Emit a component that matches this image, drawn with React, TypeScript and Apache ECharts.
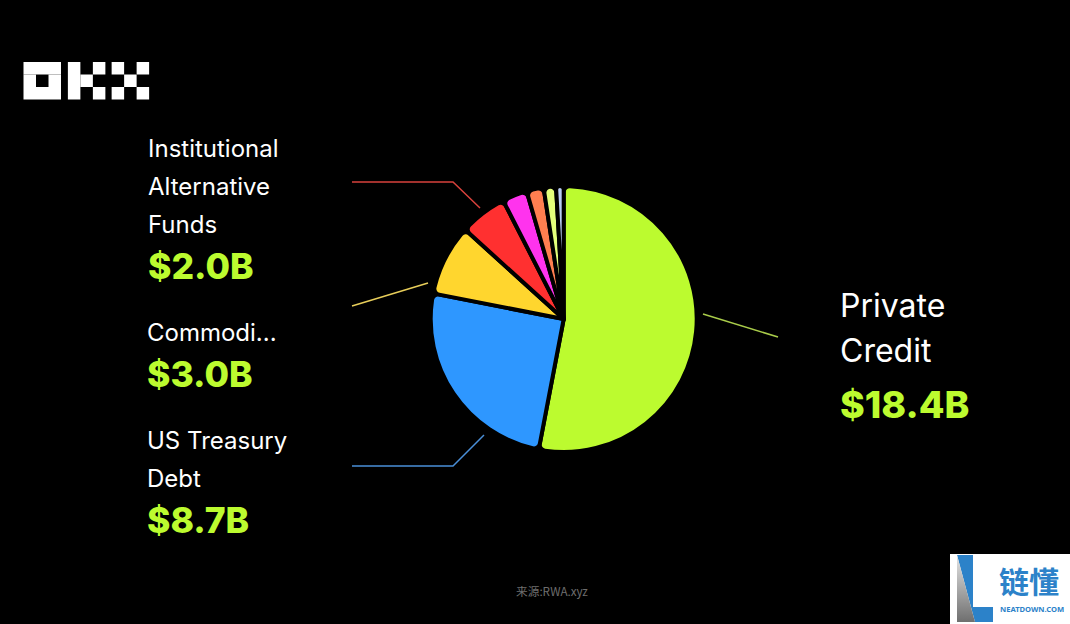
import React, { useEffect, useRef } from "react";
import * as echarts from "echarts";

const categories = [
  "Private\nCredit",
  "US Treasury\nDebt",
  "Commodi...",
  "Institutional\nAlternative\nFunds",
  "Other A",
  "Other B",
  "Other C",
  "Other D",
];
const values = [18.4, 8.7, 3.0, 2.0, 1.05, 0.72, 0.52, 0.32];
const valueLabels = ["$18.4B", "$8.7B", "$3.0B", "$2.0B", "", "", "", ""];
const sliceColors = ["#BCFB2F", "#2E97FF", "#FFD62E", "#FF3030", "#FF33EE", "#FF7F50", "#E4FF7A", "#B9CCF5"];
const lineColors = ["#A9CC4A", "#4A8FD8", "#E8CE5A", "#D8423C"];
const FONT = "Inter, 'Noto Sans', sans-serif";

const labelPlace: Record<number, any> = {
  0: { x: 840, y: 283, pts: [[703, 314], [778, 337]] },
  1: { x: 147, y: 421, pts: [[484, 435], [453, 466], [352, 466]] },
  2: { x: 147, y: 313, pts: [[428, 283], [352, 306]] },
  3: { x: 148, y: 129, pts: [[480, 208], [453, 182], [352, 182]] },
};

const logoCells = [
  [0, 0, 3, 1], [0, 2, 3, 1], [0, 1, 1, 1], [2, 1, 1, 1],
  [3.55, 0, 1, 3], [4.55, 1, 1, 1], [5.55, 0, 1, 1], [5.55, 2, 1, 1],
  [7.05, 0, 1, 1], [7.05, 2, 1, 1], [8.05, 1, 1, 1], [9.05, 0, 1, 1], [9.05, 2, 1, 1],
];

export default function App() {
  const ref = useRef<HTMLDivElement>(null);
  useEffect(() => {
    document.body.style.margin = "0";
    document.body.style.background = "#000";
    const chart = echarts.init(ref.current!, null, { renderer: "svg" });
    chart.setOption({
      animation: false,
      backgroundColor: "#000",
      series: [
        {
          type: "pie",
          center: [563.7, 319],
          radius: [0, 133],
          startAngle: 90,
          clockwise: true,
          avoidLabelOverlap: false,
          itemStyle: { borderColor: "#000", borderWidth: 4, borderRadius: 6 },
          data: values.map((v, i) => ({
            name: categories[i],
            value: v,
            itemStyle: { color: sliceColors[i] },
            label: { show: i < 4 },
            labelLine: { show: i < 4, lineStyle: { color: lineColors[i] ?? "#000", width: 1.5 } },
          })),
          label: {
            position: "outside",
            formatter: (p: any) => {
              const big = p.dataIndex === 0;
              const names = String(p.name).split("\n").map((s: string) => `{${big ? "nb" : "n"}|${s}}`);
              const val = `{${big ? "vb" : "v"}|${valueLabels[p.dataIndex]}}`;
              return [...names, val].join("\n");
            },
            rich: {
              n: { color: "#fff", fontFamily: FONT, fontSize: 24, lineHeight: 38 },
              nb: { color: "#fff", fontFamily: FONT, fontSize: 32, lineHeight: 45 },
              v: { color: "#BCFB2F", fontFamily: FONT, fontSize: 35.5, fontWeight: 800, lineHeight: 46 },
              vb: { color: "#BCFB2F", fontFamily: FONT, fontSize: 37.5, fontWeight: 800, lineHeight: 62 },
            },
          },
          labelLine: { show: true, smooth: false },
          labelLayout: (p: any) => {
            const pl = labelPlace[p.dataIndex];
            if (!pl) return {};
            return { x: pl.x, y: pl.y, align: "left", verticalAlign: "top", labelLinePoints: pl.pts };
          },
        },
      ],
      graphic: [
        {
          type: "group",
          x: 23.5,
          y: 62,
          children: logoCells.map(([c, r, w, h]) => ({
            type: "rect",
            shape: { x: c * 12.5, y: r * 12.5, width: w * 12.5, height: h * 12.5 },
            style: { fill: "#fff" },
          })),
        },
        {
          type: "text",
          x: 516,
          y: 585,
          style: { text: "来源:RWA.xyz", fill: "#6E6E6E", font: "11.7px 'Noto Sans CJK SC', sans-serif" },
        },
        { type: "rect", shape: { x: 950, y: 554, width: 120, height: 70 }, style: { fill: "#fff" } },
        {
          type: "polygon",
          shape: { points: [[957, 555], [973, 555], [973, 607], [993, 607], [993, 622], [975, 622]] },
          style: { fill: "#2C82C9" },
        },
        {
          type: "polygon",
          shape: { points: [[957, 555], [975, 622], [957, 622]] },
          style: {
            fill: new echarts.graphic.LinearGradient(0, 0, 0, 1, [
              { offset: 0, color: "#E4E4E4" },
              { offset: 1, color: "#6F6F6F" },
            ]),
          },
        },
        {
          type: "text",
          x: 999,
          y: 565,
          style: { text: "链懂", fill: "#2C82C9", font: "bold 30px 'Noto Sans CJK SC', sans-serif" },
        },
        {
          type: "text",
          x: 1000,
          y: 605,
          style: { text: "NEATDOWN.COM", fill: "#2C82C9", font: "bold 7.6px 'Noto Sans', sans-serif" },
        },
      ],
    });
    return () => chart.dispose();
  }, []);
  return <div ref={ref} style={{ position: "fixed", left: 0, top: 0, width: 1070, height: 624 }} />;
}
